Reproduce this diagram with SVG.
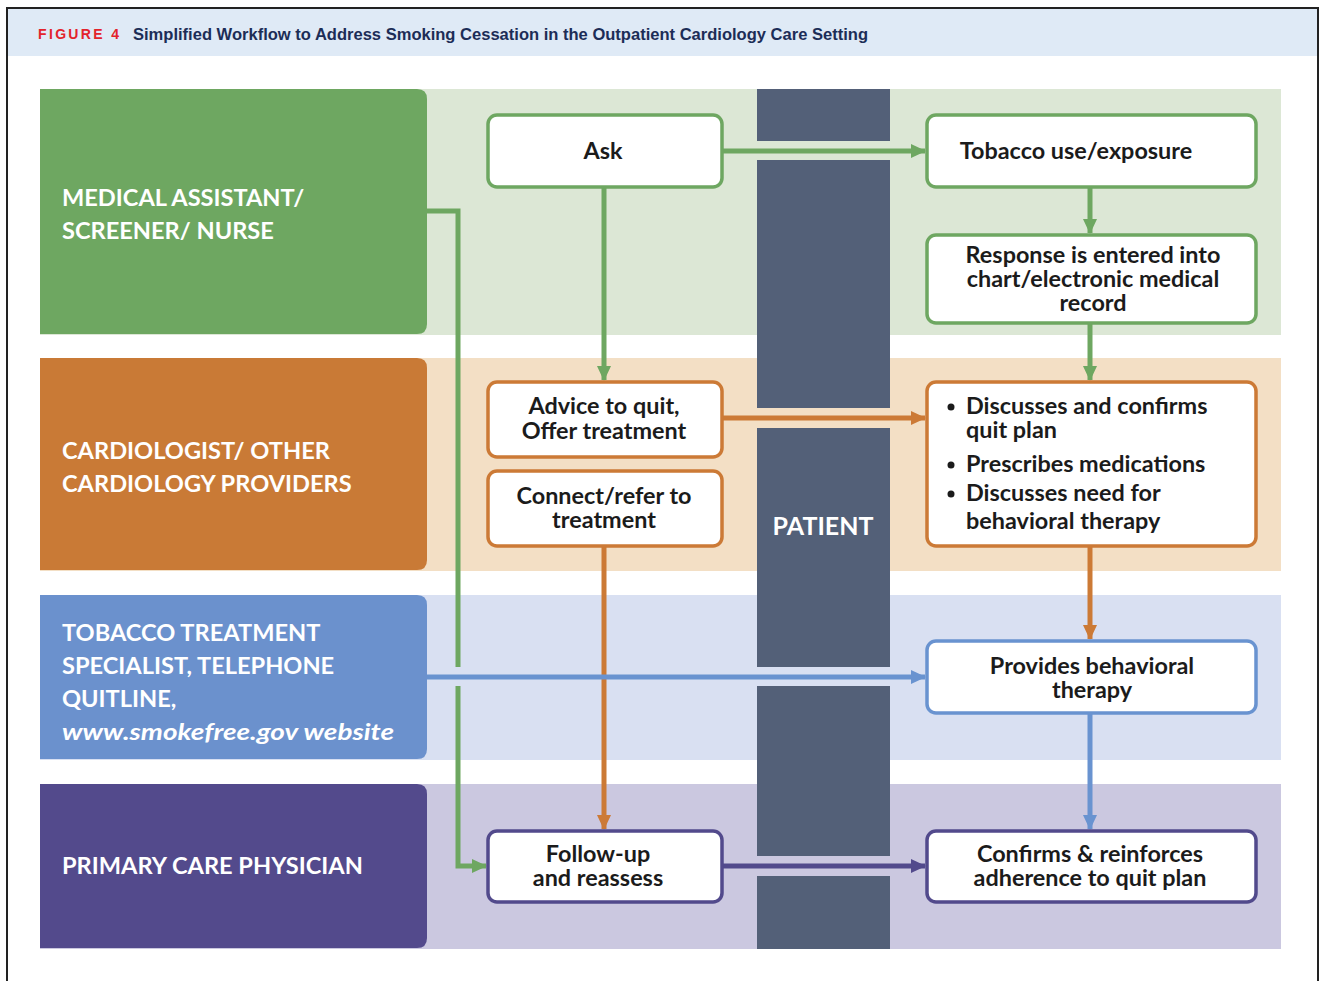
<svg xmlns="http://www.w3.org/2000/svg" width="1322" height="981" viewBox="0 0 1322 981">
<style>
.lane{font-family:Lato,"Open Sans",sans-serif;font-weight:700;font-size:23.6px;fill:#ffffff}
.bt{font-family:Lato,"Open Sans",sans-serif;font-weight:700;font-size:23.4px;fill:#1b1b1b}
.box{fill:#ffffff;stroke-width:3.5}
.g{stroke:#6ea761}.o{stroke:#cc7a36}.b{stroke:#6993d0}.p{stroke:#524a8c}
.c{fill:none;stroke-width:5}
</style>
<defs>
<marker id="ag" markerUnits="userSpaceOnUse" markerWidth="16" markerHeight="16" refX="14" refY="8" orient="auto"><path d="M0,1 L15,8 L0,15 Z" fill="#6ea761"/></marker>
<marker id="ao" markerUnits="userSpaceOnUse" markerWidth="16" markerHeight="16" refX="14" refY="8" orient="auto"><path d="M0,1 L15,8 L0,15 Z" fill="#cc7a36"/></marker>
<marker id="ab" markerUnits="userSpaceOnUse" markerWidth="16" markerHeight="16" refX="14" refY="8" orient="auto"><path d="M0,1 L15,8 L0,15 Z" fill="#6993d0"/></marker>
<marker id="ap" markerUnits="userSpaceOnUse" markerWidth="16" markerHeight="16" refX="14" refY="8" orient="auto"><path d="M0,1 L15,8 L0,15 Z" fill="#524a8c"/></marker>
</defs>
<rect x="0" y="0" width="1322" height="981" fill="#ffffff"/>
<rect x="8" y="9" width="1310" height="47" fill="#dfeaf6"/>
<path d="M7,990 V8 H1318 V990" fill="none" stroke="#222" stroke-width="2"/>
<text x="38" y="39" font-family="'Liberation Sans',Arial,sans-serif" font-weight="700" font-size="14" fill="#e3232c" textLength="81" lengthAdjust="spacing">FIGURE 4</text>
<text x="133" y="39.5" font-family="'Liberation Sans',Arial,sans-serif" font-weight="700" font-size="16.5" fill="#1c2d57" textLength="735" lengthAdjust="spacingAndGlyphs">Simplified Workflow to Address Smoking Cessation in the Outpatient Cardiology Care Setting</text>

<!-- lane backgrounds -->
<rect x="40" y="89" width="1241" height="246" fill="#dce7d5"/>
<rect x="40" y="358" width="1241" height="213" fill="#f3dfc5"/>
<rect x="40" y="595" width="1241" height="165" fill="#d9e0f2"/>
<rect x="40" y="784" width="1241" height="165" fill="#cbc8e0"/>

<!-- patient column -->
<g id="patient">
<rect x="757" y="89" width="133" height="52" fill="#536078"/>
<rect x="757" y="160" width="133" height="248" fill="#536078"/>
<rect x="757" y="428" width="133" height="239" fill="#536078"/>
<rect x="757" y="686" width="133" height="170" fill="#536078"/>
<rect x="757" y="876" width="133" height="73" fill="#536078"/>
<text x="823" y="535" text-anchor="middle" font-family="Lato,'Open Sans',sans-serif" font-weight="700" font-size="25" fill="#ffffff">PATIENT</text>
</g>

<!-- lane label panels -->
<g id="lane-medical">
<path d="M40,89 H417 Q427,89 427,99 V324 Q427,334 417,334 H40 Z" fill="#6ea761"/>
<text class="lane" x="62" y="206">MEDICAL ASSISTANT/</text>
<text class="lane" x="62" y="239">SCREENER/ NURSE</text>
</g>
<g id="lane-cardiologist">
<path d="M40,358 H417 Q427,358 427,368 V560 Q427,570 417,570 H40 Z" fill="#c97a36"/>
<text class="lane" x="62" y="459">CARDIOLOGIST/ OTHER</text>
<text class="lane" x="62" y="492">CARDIOLOGY PROVIDERS</text>
</g>
<g id="lane-tobacco">
<path d="M40,595 H417 Q427,595 427,605 V749 Q427,759 417,759 H40 Z" fill="#6b91cd"/>
<text class="lane" x="62" y="641">TOBACCO TREATMENT</text>
<text class="lane" x="62" y="674">SPECIALIST, TELEPHONE</text>
<text class="lane" x="62" y="707">QUITLINE,</text>
<text class="lane" x="62" y="740" font-style="italic" textLength="332" lengthAdjust="spacingAndGlyphs">www.smokefree.gov website</text>
</g>
<g id="lane-primary">
<path d="M40,784 H417 Q427,784 427,794 V938 Q427,948 417,948 H40 Z" fill="#534a8c"/>
<text class="lane" x="62" y="874">PRIMARY CARE PHYSICIAN</text>
</g>

<!-- connectors -->
<g id="connectors">
<path class="c g" d="M722,151 H925" marker-end="url(#ag)"/>
<path class="c g" d="M604,187 V380" marker-end="url(#ag)"/>
<path class="c g" d="M1090,187 V233" marker-end="url(#ag)"/>
<path class="c g" d="M1090,323 V380" marker-end="url(#ag)"/>
<path class="c o" d="M722,418 H925" marker-end="url(#ao)"/>
<path class="c o" d="M604,546 V829" marker-end="url(#ao)"/>
<path class="c o" d="M1090,546 V639" marker-end="url(#ao)"/>
<path class="c g" d="M427,211 H458 V667"/>
<path class="c g" d="M458,686 V866 H486" marker-end="url(#ag)"/>
<path class="c b" d="M427,677 H925" marker-end="url(#ab)"/>
<path class="c b" d="M1090,713 V829" marker-end="url(#ab)"/>
<path class="c p" d="M722,866 H925" marker-end="url(#ap)"/>
</g>

<!-- nodes -->
<g id="ask"><rect class="box g" x="488" y="115" width="234" height="72" rx="9"/>
<text class="bt" x="603" y="159" text-anchor="middle">Ask</text></g>
<g id="tobacco-use"><rect class="box g" x="927" y="115" width="329" height="72" rx="9"/>
<text class="bt" x="1076" y="159" text-anchor="middle">Tobacco use/exposure</text></g>
<g id="response"><rect class="box g" x="927" y="235" width="329" height="88" rx="9"/>
<text class="bt" x="1093" y="263" text-anchor="middle">Response is entered into</text>
<text class="bt" x="1093" y="287" text-anchor="middle">chart/electronic medical</text>
<text class="bt" x="1093" y="311" text-anchor="middle">record</text></g>
<g id="advice"><rect class="box o" x="488" y="382" width="234" height="75" rx="9"/>
<text class="bt" x="604" y="414" text-anchor="middle">Advice to quit,</text>
<text class="bt" x="604" y="439" text-anchor="middle">Offer treatment</text></g>
<g id="connect"><rect class="box o" x="488" y="471" width="234" height="75" rx="9"/>
<text class="bt" x="604" y="504" text-anchor="middle">Connect/refer to</text>
<text class="bt" x="604" y="528" text-anchor="middle">treatment</text></g>
<g id="discusses"><rect class="box o" x="927" y="382" width="329" height="164" rx="9"/>
<circle cx="951" cy="407" r="3.5" fill="#1b1b1b"/>
<circle cx="951" cy="465" r="3.5" fill="#1b1b1b"/>
<circle cx="951" cy="494" r="3.5" fill="#1b1b1b"/>
<text class="bt" x="966" y="414">Discusses and confirms</text>
<text class="bt" x="966" y="438">quit plan</text>
<text class="bt" x="966" y="472">Prescribes medications</text>
<text class="bt" x="966" y="501">Discusses need for</text>
<text class="bt" x="966" y="529">behavioral therapy</text></g>
<g id="provides"><rect class="box b" x="927" y="641" width="329" height="72" rx="9"/>
<text class="bt" x="1092" y="674" text-anchor="middle">Provides behavioral</text>
<text class="bt" x="1092" y="698" text-anchor="middle">therapy</text></g>
<g id="followup"><rect class="box p" x="488" y="831" width="234" height="71" rx="9"/>
<text class="bt" x="598" y="862" text-anchor="middle">Follow-up</text>
<text class="bt" x="598" y="886" text-anchor="middle">and reassess</text></g>
<g id="confirms"><rect class="box p" x="927" y="831" width="329" height="71" rx="9"/>
<text class="bt" x="1090" y="862" text-anchor="middle">Confirms &amp; reinforces</text>
<text class="bt" x="1090" y="886" text-anchor="middle">adherence to quit plan</text></g>
</svg>
